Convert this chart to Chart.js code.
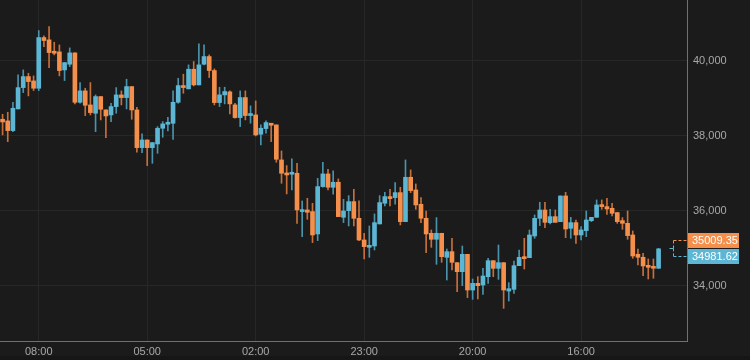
<!DOCTYPE html>
<html lang="en">
<head>
<meta charset="UTF-8" />
<title>Candles</title>
<script src="https://cdn.jsdelivr.net/npm/chart.js"></script>
<style>
  body { margin: 0; background: #1b1b1b; }
  #wrap { position: relative; width: 750px; height: 360px; }
</style>
</head>
<body>
<div id="wrap"><canvas id="chart"></canvas></div>
<script>
  // candle values, oldest first
  const opens = [38436,38392,38134,38712,39280,39574,39458,39263,40614,40552,40232,40232,39752,39903,40205,38889,39192,38818,38596,39041,
    38685,38552,38774,39085,39014,39307,38685,37680,37885,37680,37778,38196,38303,38329,38889,39326,39246,39770,39352,39903,
    40108,39735,38881,39086,39166,38819,38481,39015,38535,38552,38037,38188,38330,38286,37352,36997,36970,36997,35975,36019,
    35975,35379,36641,36979,36623,36757,35824,36001,36241,35797,35219,35023,35059,35646,36197,36375,36348,36481,35708,36890,
    36552,36170,35797,35397,35237,35397,34756,34907,34614,34374,34836,33885,34063,34018,34241,34667,34463,34614,33858,33903,
    34534,34756,34747,35325,35796,36018,35680,35841,35707,36392,35530,35681,35352,35468,35734,35823,36152,36108,36063,35948,
    35734,35663,35352,34837,34757,34526,34508,34464];
  const highs = [38569,38623,38889,39618,39752,39663,39592,40801,40658,40907,40489,40418,39947,40338,40205,39414,39263,39414,39085,39041,
    38685,38863,39280,39192,39503,39307,38756,38045,37885,37814,38240,38374,38489,39192,39529,39637,39886,39975,40446,40419,
    40152,39779,39290,39290,39192,38863,39192,39192,38792,38926,38286,38392,38330,38286,37592,37201,37379,37263,36259,36330,
    36197,36863,37290,37103,37059,36846,36303,36401,36570,36259,35397,35592,35912,36401,36490,36570,36748,36623,37352,37086,
    36712,36348,35992,35486,35815,35397,34978,35263,34614,35058,34836,34178,34241,34463,34729,34667,35085,34614,34081,34658,
    34952,35263,35485,35885,36223,36223,36036,36018,36392,36489,35823,35752,35575,35992,35823,36286,36286,36330,36197,35957,
    35814,35992,35459,34979,34863,34712,34712,34997];
  const lows = [38018,37840,38107,38712,39147,39059,39200,39200,40374,39814,40152,39592,39467,39841,38845,38863,38534,38552,38107,38418,
    37947,38374,38596,38818,38712,38436,37556,37547,37200,37262,37529,37956,38125,37902,38863,39130,39246,39326,39352,39886,
    39548,38819,38775,38846,38579,38463,38241,38419,38330,37992,37752,38064,37841,37290,36730,36446,36552,35663,35308,35770,
    35148,35201,36623,36552,36437,35841,35681,35592,35592,35201,34712,34757,34952,35646,36126,36126,36170,35619,35708,36481,
    36037,35681,34881,35023,34570,34623,34152,34418,33841,34001,33680,33636,33645,33769,34063,34241,34169,33396,33592,33796,
    34534,34445,34747,35263,35601,35547,35645,35689,35707,35280,35263,35130,35219,35308,35708,35823,36037,35903,35859,35663,
    35503,35237,34730,34552,34268,34179,34197,34464];
  const closes = [38365,38134,38729,39280,39574,39441,39263,40614,40534,40214,40196,39734,39947,40205,38889,39192,38809,38614,39041,38703,
    38525,38774,39085,39014,39307,38685,37680,37885,37680,37814,38196,38312,38347,38889,39334,39281,39770,39352,39886,40108,
    39735,38881,39086,39175,38846,38481,39015,38535,38552,38019,38197,38348,38277,37370,36997,36952,37014,36019,36019,35957,
    35352,36641,36979,36623,36757,35841,35992,36241,35797,35219,35041,35059,35681,36215,36375,36321,36481,35708,36890,36535,
    36152,35797,35379,35237,35397,34774,34907,34623,34374,34836,33885,34063,34001,34258,34667,34463,34614,33885,33920,34534,
    34756,34721,35352,35796,36018,35689,35841,35689,36392,35512,35681,35352,35486,35752,35823,36152,36108,36046,35930,35708,
    35663,35335,34792,34757,34526,34490,34464,34982];

  const slotCount = 133; // room left after the last candle for the price tags
  const xTickIdx = [7, 28, 49, 70, 91, 112];
  const xTickLabels = ['08:00', '05:00', '02:00', '23:00', '20:00', '16:00'];
  const yTicks = [34000, 36000, 38000, 40000];
  const askPrice = 35009.35;
  const bidPrice = 34981.62;

  const UP = '#5cb6d4', DOWN = '#f58f4c';
  const UP_WICK = '#4a93ab', DOWN_WICK = '#c8703a';

  const labels = [];
  for (let i = 0; i < slotCount; i++) {
    const k = xTickIdx.indexOf(i);
    labels.push(k >= 0 ? xTickLabels[k] : '');
  }
  const isUp = i => closes[i] >= opens[i];

  Chart.defaults.font.family = "'Liberation Sans', Arial, sans-serif";

  const frame = {
    id: 'frame',
    beforeDraw(chart) {
      const ctx = chart.ctx;
      ctx.save();
      ctx.fillStyle = '#1b1b1b';
      ctx.fillRect(0, 0, chart.width, chart.height);
      ctx.fillStyle = '#161616';
      ctx.fillRect(0, 356, chart.width, chart.height - 356);
      ctx.restore();
    }
  };

  const priceTags = {
    id: 'priceTags',
    afterDraw(chart) {
      const ctx = chart.ctx;
      const y = chart.scales.y;
      const right = chart.chartArea.right;
      const mid = (y.getPixelForValue(askPrice) + y.getPixelForValue(bidPrice)) / 2;
      const tags = [
        { v: askPrice, c: DOWN, py: Math.round(mid - 8) },
        { v: bidPrice, c: UP, py: Math.round(mid + 8) }
      ];
      ctx.save();
      ctx.lineWidth = 1;
      ctx.setLineDash([3, 2]);
      const bx = right - 13.5;
      tags.forEach(t => {
        ctx.strokeStyle = t.c;
        ctx.beginPath();
        ctx.moveTo(bx, t.py + 0.5);
        ctx.lineTo(right, t.py + 0.5);
        ctx.stroke();
      });
      ctx.strokeStyle = DOWN;
      ctx.beginPath();
      ctx.moveTo(bx, tags[0].py + 0.5);
      ctx.lineTo(bx, mid);
      ctx.stroke();
      ctx.strokeStyle = UP;
      ctx.beginPath();
      ctx.moveTo(bx, mid);
      ctx.lineTo(bx, tags[1].py + 0.5);
      ctx.stroke();
      ctx.setLineDash([]);
      ctx.beginPath();
      ctx.moveTo(bx - 4, Math.round(mid) + 0.5);
      ctx.lineTo(bx, Math.round(mid) + 0.5);
      ctx.stroke();
      ctx.font = "11px 'Liberation Sans', Arial, sans-serif";
      ctx.textBaseline = 'middle';
      tags.forEach(t => {
        ctx.fillStyle = t.c;
        ctx.fillRect(right + 1, t.py - 7, 51, 15);
        ctx.fillStyle = '#ffffff';
        ctx.fillText(t.v.toFixed(2), right + 5, t.py + 1);
      });
      ctx.restore();
    }
  };

  new Chart(document.getElementById('chart'), {
    type: 'bar',
    data: {
      labels: labels,
      datasets: [
        {
          label: 'wick',
          data: lows.map((l, i) => [l, highs[i]]),
          backgroundColor: ctx => isUp(ctx.dataIndex) ? UP_WICK : DOWN_WICK,
          barThickness: 1,
          grouped: false,
          order: 2
        },
        {
          label: 'body',
          data: opens.map((o, i) => [o, closes[i]]),
          backgroundColor: ctx => isUp(ctx.dataIndex) ? UP : DOWN,
          barThickness: 4,
          minBarLength: 2,
          grouped: false,
          order: 1
        }
      ]
    },
    options: {
      responsive: true,
      maintainAspectRatio: false,
      animation: false,
      layout: { padding: 0 },
      plugins: { legend: { display: false }, tooltip: { enabled: false } },
      scales: {
        x: {
          offset: true,
          grid: { color: '#272727', offset: false, drawTicks: false },
          border: { display: true, color: '#707070' },
          ticks: { color: '#a8a8a8', font: { size: 11 }, maxRotation: 0, autoSkip: false, padding: 4 },
          afterBuildTicks: s => { s.ticks = s.ticks.filter(t => xTickIdx.includes(t.value)); },
          afterFit: s => { s.height = 19; s.paddingLeft = 0; s.paddingRight = 0; }
        },
        y: {
          position: 'right',
          min: 32526,
          max: 41615,
          grid: { color: '#272727', drawTicks: false },
          border: { display: true, color: '#707070' },
          ticks: {
            color: '#a8a8a8',
            font: { size: 11 },
            padding: 6,
            callback: v => v.toLocaleString('en-US')
          },
          afterBuildTicks: s => { s.ticks = yTicks.map(v => ({ value: v })); },
          afterFit: s => { s.width = 63; s.paddingTop = 0; s.paddingBottom = 0; }
        }
      }
    },
    plugins: [frame, priceTags]
  });
</script>
</body>
</html>
